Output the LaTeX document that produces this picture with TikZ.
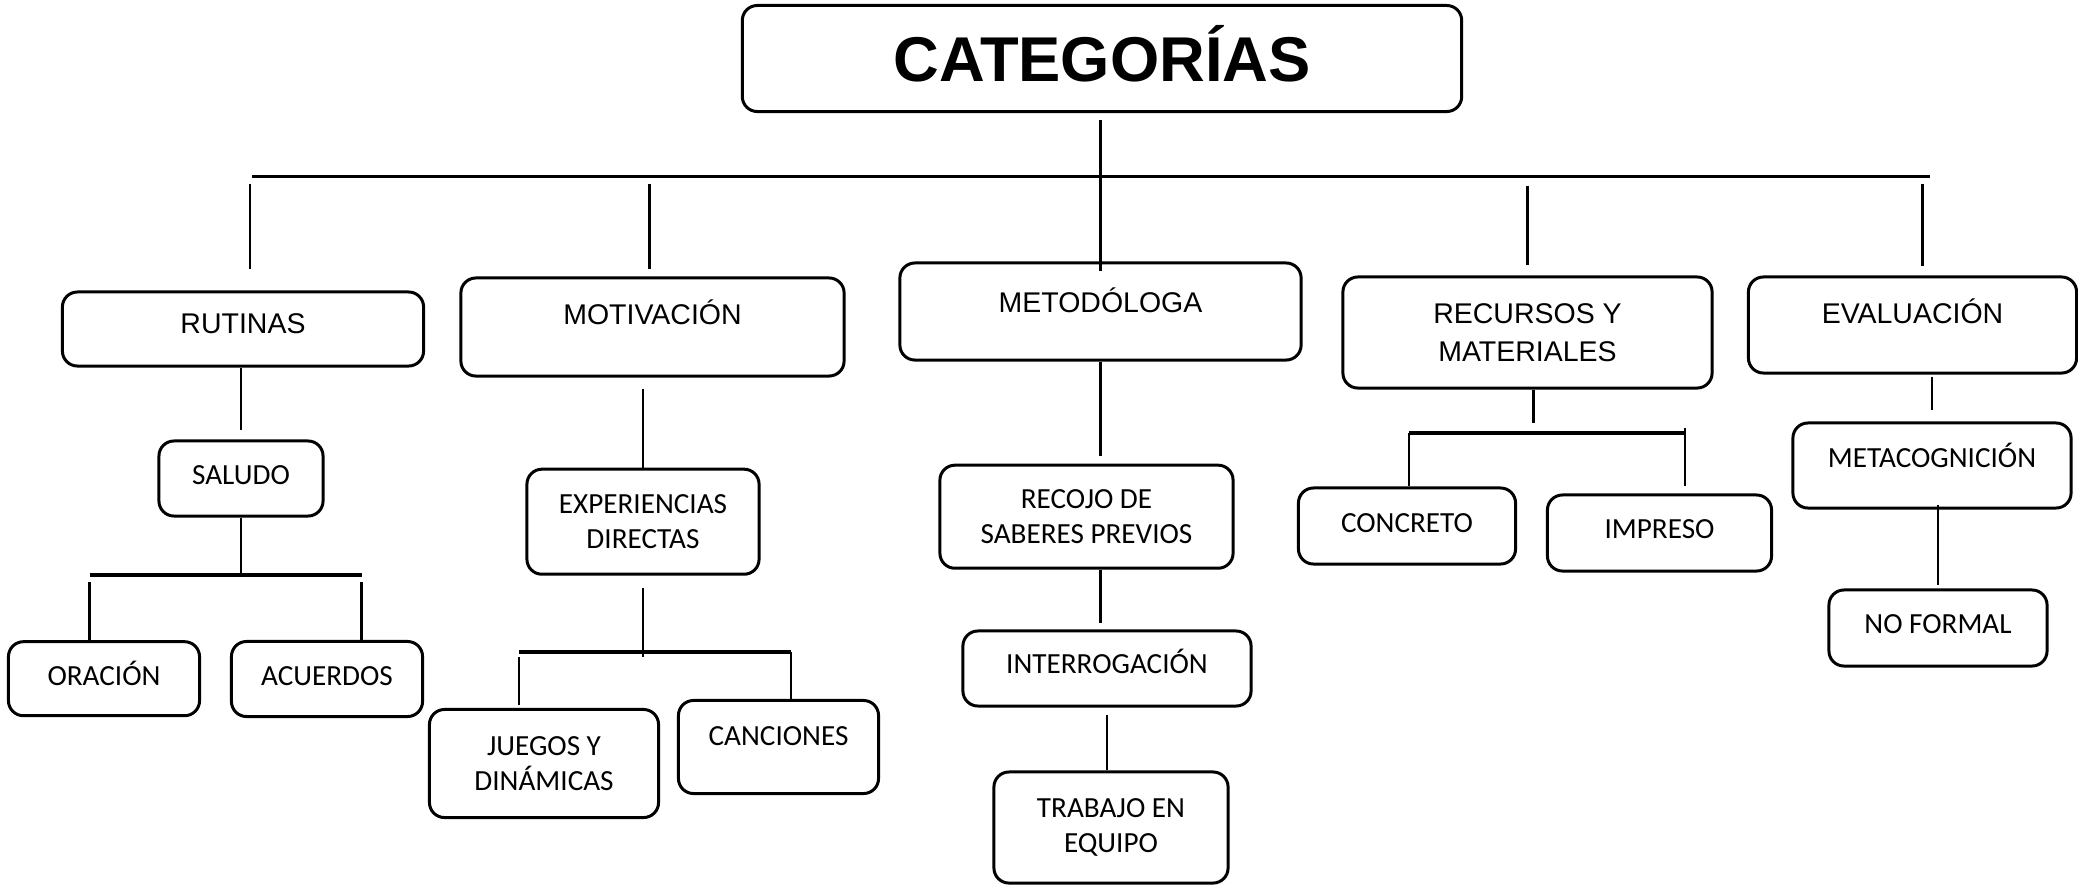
\documentclass[tikz,border=0pt]{standalone}
\usepackage{fontspec}
\setmainfont{Liberation Sans}
\newfontfamily\calibri{Carlito}

\begin{document}
\begin{tikzpicture}[x=0.01cm,y=-0.01cm,
box/.style={draw, rounded corners=0.15cm, line width=0.85pt, inner sep=0pt, align=center},
main/.style={box, font=\fontsize{8.1}{10.7}\selectfont},
leaf/.style={box, font=\calibri\fontsize{8.3}{10}\selectfont},
lift/.style={text height=5.6pt, text depth=#1},
link/.style={line width=0.6pt},
fine/.style={line width=0.3pt},
bar/.style={line width=0.9pt}]
\useasboundingbox (0,0) rectangle (2078,884);

\node[box, font=\fontsize{18}{20}\selectfont\bfseries, text height=12.9pt, text depth=0pt,
  minimum width=7.19cm, minimum height=1.06cm] (cat) at (1102,58.5) {CATEGORÍAS};

\node[main, lift=0.11cm, minimum width=3.61cm, minimum height=0.74cm] (rut) at (243,329) {RUTINAS};
\node[main, lift=0.24cm, minimum width=3.83cm, minimum height=0.98cm] (mot) at (652.5,327) {MOTIVACIÓN};
\node[main, lift=0.18cm, minimum width=4.01cm, minimum height=0.97cm] (met) at (1100.5,311.5) {METODÓLOGA};
\node[main, minimum width=3.69cm, minimum height=1.11cm] (rec) at (1527.5,332.5) {RECURSOS Y\\MATERIALES};
\node[main, lift=0.23cm, minimum width=3.28cm, minimum height=0.96cm] (eva) at (1912.5,325) {EVALUACIÓN};

\node[leaf, lift=0.07cm, minimum width=1.64cm, minimum height=0.75cm] (sal) at (241,478.5) {SALUDO};
\node[leaf, lift=0.07cm, minimum width=1.91cm, minimum height=0.74cm] (ora) at (104,678.7) {ORACIÓN};
\node[leaf, lift=0.07cm, minimum width=1.91cm, minimum height=0.75cm] (acu) at (327,679) {ACUERDOS};
\node[leaf, minimum width=2.32cm, minimum height=1.05cm] (exp) at (643,521.7) {EXPERIENCIAS\\DIRECTAS};
\node[leaf, minimum width=2.29cm, minimum height=1.08cm] (jue) at (544,763.5) {JUEGOS Y\\DINÁMICAS};
\node[leaf, lift=0.22cm, minimum width=2cm, minimum height=0.93cm] (can) at (778.5,747) {CANCIONES};
\node[leaf, minimum width=2.93cm, minimum height=1.03cm] (sab) at (1086.5,516.7) {RECOJO DE\\SABERES PREVIOS};
\node[leaf, lift=0.09cm, minimum width=2.88cm, minimum height=0.75cm] (int) at (1107,668.5) {INTERROGACIÓN};
\node[leaf, minimum width=2.34cm, minimum height=1.11cm] (tra) at (1111,827.5) {TRABAJO EN\\EQUIPO};
\node[leaf, lift=0.07cm, minimum width=2.17cm, minimum height=0.76cm] (con) at (1407,526) {CONCRETO};
\node[leaf, lift=0.08cm, minimum width=2.24cm, minimum height=0.76cm] (imp) at (1659.5,533) {IMPRESO};
\node[leaf, lift=0.16cm, minimum width=2.78cm, minimum height=0.85cm] (mcg) at (1932,465.5) {METACOGNICIÓN};
\node[leaf, lift=0.08cm, minimum width=2.18cm, minimum height=0.76cm] (nof) at (1938,628) {NO FORMAL};

\coordinate (barL) at (252,176.5);
\coordinate (barR) at (1930,176.5);
\coordinate (salL) at (89.5,575);
\coordinate (salR) at (361.5,575);
\coordinate (expL) at (519,652);
\coordinate (expR) at (791,652);
\coordinate (recL) at (1409,433);
\coordinate (recR) at (1685,433);

\draw[bar] (barL)--(barR);
\draw[link, shorten <=0.07cm, shorten >=-0.1cm] (met.north |- cat.south)--(met.north);
\draw[link, shorten <=0.07cm, shorten >=0.21cm] ([xshift=0.07cm]rut.north |- barL)--([xshift=0.07cm]rut.north);
\draw[link, shorten <=0.07cm, shorten >=0.07cm] ([xshift=-0.03cm]mot.north |- barL)--([xshift=-0.03cm]mot.north);
\draw[link, shorten <=0.09cm, shorten >=0.1cm] (rec.north |- barL)--(rec.north);
\draw[link, shorten <=0.07cm, shorten >=0.09cm] ([xshift=0.1cm]eva.north |- barL)--([xshift=0.1cm]eva.north);

\draw[fine, shorten >=0.095cm] (sal.north |- rut.south)--(sal.north);
\draw[link] (sal.south)--(sal.south |- salL);
\draw[bar] (salL)--(salR);
\draw[link, shorten <=0.07cm] (salL)--(salL |- ora.north);
\draw[link, shorten <=0.07cm] (salR)--(salR |- acu.north);

\draw[fine, shorten <=0.11cm] (exp.north |- mot.south)--(exp.north);
\draw[link, shorten <=0.12cm, shorten >=-0.05cm] (exp.south)--(exp.south |- expL);
\draw[bar] (expL)--(expR);
\draw[link, shorten <=0.05cm, shorten >=0.03cm] (expL)--(expL |- jue.north);
\draw[link] (expR)--(expR |- can.north);

\draw[link, shorten >=0.08cm] (met.south)--(met.south |- sab.north);
\draw[link, shorten >=0.06cm] (met.south |- sab.south)--(met.south |- int.north);
\draw[link, shorten <=0.07cm] (int.south)--(int.south |- tra.north);

\draw[link, shorten >=0.1cm] ([xshift=0.06cm]rec.south)--([xshift=0.06cm]rec.south |- recL);
\draw[bar] (recL)--(recR);
\draw[link] (recL)--(recL |- con.north);
\draw[link, shorten <=-0.05cm, shorten >=0.07cm] (recR)--(recR |- imp.north);

\draw[link, shorten <=0.02cm, shorten >=0.11cm] (mcg.north |- eva.south)--(mcg.north);
\draw[link, shorten <=-0.05cm, shorten >=0.03cm] (nof.north |- mcg.south)--(nof.north);
\end{tikzpicture}
\end{document}
